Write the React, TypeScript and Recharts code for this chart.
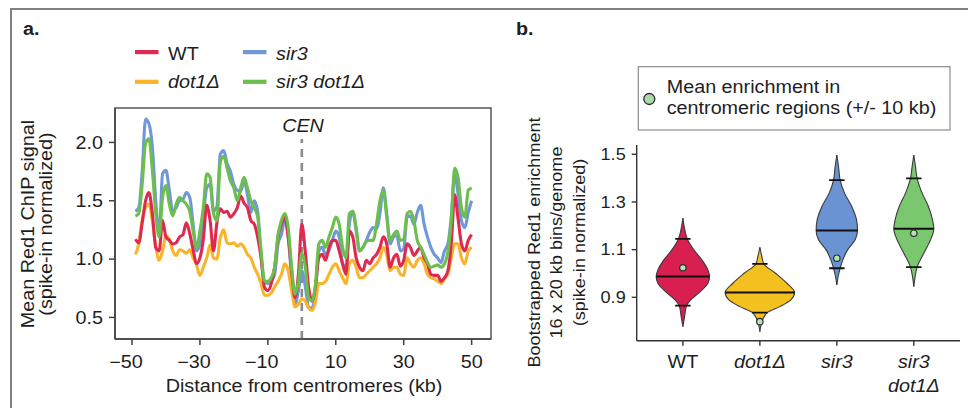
import React from "react";
import {
  LineChart,
  Line,
  XAxis,
  YAxis,
  ReferenceLine,
  ReferenceArea,
  ComposedChart,
  Area,
  Scatter,
} from "recharts";

const FONT = '"Liberation Sans", Arial, Helvetica, sans-serif';
const SX = 1.13;
const FS = 17.5;
const INK = "#1e1e1e";

// ---------------- panel a: ChIP signal around centromeres ----------------
const kbPositions = [
  -49, -48, -47, -46, -45, -44, -43, -42, -41, -40,
  -39, -38, -37, -36, -35, -34, -33, -32, -31, -30,
  -29, -28, -27, -26, -25, -24, -23, -22, -21, -20,
  -19, -18, -17, -16, -15, -14, -13, -12, -11, -10,
  -9, -8, -7, -6, -5, -4, -3, -2, -1, 0,
  1, 2, 3, 4, 5, 6, 7, 8, 9, 10,
  11, 12, 13, 14, 15, 16, 17, 18, 19, 20,
  21, 22, 23, 24, 25, 26, 27, 28, 29, 30,
  31, 32, 33, 34, 35, 36, 37, 38, 39, 40,
  41, 42, 43, 44, 45, 46, 47, 48, 49, 50,
];

const wtSignal = [
  1.17, 1.14, 1.31, 1.5, 1.57, 1.39, 1.1, 1.07, 1.33, 1.19,
  1.16, 1.13, 1.14, 1.19, 1.21, 1.31, 1.22, 1.08, 0.96, 1.01,
  1.17, 1.46, 1.33, 1.07, 1.31, 1.43, 1.4, 1.41, 1.36, 1.39,
  1.44, 1.54, 1.48, 1.44, 1.33, 1.3, 1.19, 1.01, 0.76, 0.73,
  0.79, 0.93, 1.19, 1.3, 1.36, 1.19, 0.9, 0.67, 0.87, 1.3,
  1.07, 0.76, 0.64, 0.76, 1.01, 1.04, 0.99, 1.1, 1.16, 1.16,
  1.07, 0.96, 0.87, 1.24, 1.19, 1.01, 0.93, 0.9, 0.99, 0.96,
  1.01, 1.04, 1.1, 1.19, 1.13, 0.93, 1.01, 1.04, 0.94, 0.99,
  1.13, 1.1, 1.03, 1.07, 1.1, 1.01, 0.96, 0.87, 0.86, 0.86,
  0.81, 0.84, 0.9, 1.13, 1.55, 1.35, 1.13, 1.07, 1.16, 1.21,
];

const dot1Signal = [
  1.04, 1.13, 1.34, 1.44, 1.47, 1.33, 1.11, 0.99, 1.07, 1.2,
  1.17, 1.07, 1.03, 1.08, 1.07, 1.05, 1.08, 1.01, 0.95, 0.86,
  0.93, 1.01, 1.12, 1.01, 1.0, 1.18, 1.25, 1.14, 1.13, 1.14,
  1.11, 1.13, 1.1, 1.04, 1.01, 0.93, 0.87, 0.79, 0.69, 0.69,
  0.71, 0.76, 0.81, 0.87, 0.96, 0.9, 0.73, 0.59, 0.61, 0.66,
  0.64, 0.58, 0.56, 0.63, 0.79, 0.79, 0.81, 0.87, 0.93, 0.96,
  0.9, 0.84, 0.79, 0.96, 0.99, 0.93, 0.84, 0.84, 0.87, 0.9,
  0.93, 0.96, 1.01, 1.1, 1.04, 0.9, 0.93, 0.93, 0.87, 0.86,
  1.01, 0.96, 0.93, 0.99, 1.01, 0.96, 0.87, 0.84, 0.83, 0.81,
  0.79, 0.83, 0.87, 1.01, 1.13, 1.13, 1.01, 0.96, 1.07, 1.1,
];

const sir3Signal = [
  1.41, 1.44, 1.75, 2.2, 2.16, 1.96, 1.5, 1.21, 1.73, 1.76,
  1.59, 1.41, 1.44, 1.5, 1.51, 1.57, 1.53, 1.3, 1.07, 1.13,
  1.36, 1.61, 1.64, 1.41, 1.45, 1.9, 1.93, 1.82, 1.75, 1.64,
  1.59, 1.58, 1.67, 1.55, 1.4, 1.5, 1.41, 1.04, 0.81, 0.79,
  0.81, 0.87, 1.13, 1.21, 1.33, 1.19, 0.84, 0.61, 0.73, 0.9,
  0.77, 0.59, 0.58, 0.72, 1.07, 1.1, 1.04, 1.07, 1.16, 1.24,
  1.19, 0.96, 0.93, 1.3, 1.41, 1.24, 1.07, 1.1, 1.16, 1.23,
  1.27, 1.26, 1.39, 1.61, 1.39, 1.13, 1.19, 1.2, 1.07, 1.09,
  1.36, 1.37, 1.3, 1.4, 1.46, 1.3, 1.19, 1.1, 1.04, 1.01,
  0.97, 1.07, 1.13, 1.36, 1.72, 1.56, 1.33, 1.27, 1.4, 1.5,
];

const sir3dot1Signal = [
  1.37, 1.39, 1.64, 1.99, 2.03, 1.76, 1.39, 1.19, 1.53, 1.63,
  1.47, 1.37, 1.47, 1.53, 1.5, 1.47, 1.41, 1.24, 1.1, 1.24,
  1.44, 1.73, 1.7, 1.39, 1.33, 1.83, 1.88, 1.78, 1.67, 1.61,
  1.5, 1.61, 1.7, 1.61, 1.5, 1.44, 1.36, 1.07, 0.81, 0.81,
  0.84, 0.93, 1.21, 1.33, 1.39, 1.27, 0.93, 0.7, 0.81, 1.05,
  0.94, 0.67, 0.64, 0.78, 1.13, 1.16, 1.1, 1.19, 1.27, 1.36,
  1.3, 1.1, 1.01, 1.39, 1.41, 1.27, 1.07, 1.1, 1.15, 1.16,
  1.16, 1.3, 1.5, 1.59, 1.36, 1.16, 1.21, 1.24, 1.16, 1.17,
  1.39, 1.41, 1.33, 1.16, 1.1, 1.04, 0.97, 0.93, 0.94, 0.95,
  0.93, 0.96, 1.06, 1.33, 1.78, 1.7, 1.44, 1.36, 1.59, 1.61,
];

const seriesKeys = ["wt", "dot1", "sir3", "sir3dot1"];
const seriesLabels = ["WT", "dot1\u0394", "sir3", "sir3 dot1\u0394"];
const seriesItalic = [false, true, true, true];
const lineColors = ["#e0294f", "#f9b42a", "#7098d9", "#6cbe4d"];
const drawOrder = [2, 1, 0, 3];
const xTicksA = [-50, -30, -10, 10, 30, 50];
const yTicksA = [0.5, 1.0, 1.5, 2.0];

const lineData = kbPositions.map((kb, i) => ({
  kb,
  wt: wtSignal[i],
  dot1: dot1Signal[i],
  sir3: sir3Signal[i],
  sir3dot1: sir3dot1Signal[i],
}));

// ---------------- panel b: bootstrapped enrichment violins ----------------
const violinCategories = ["WT", "dot1\u0394", "sir3", "sir3 dot1\u0394"];
const violinTickLines = [["WT"], ["dot1\u0394"], ["sir3"], ["sir3", "dot1\u0394"]];
const violinTickItalic = [false, true, true, true];
const violinFills = ["#d91f50", "#f2c01f", "#6a93d4", "#7ac76f"];

const wtLevels = [1.232, 1.197, 1.146, 1.099, 1.057, 1.015, 0.987, 0.959, 0.924, 0.889, 0.865, 0.819, 0.777];
const wtHalfWidths = [0, 0.017, 0.056, 0.143, 0.247, 0.325, 0.347, 0.325, 0.227, 0.101, 0.048, 0.022, 0];
const dot1Levels = [1.11, 1.071, 1.04, 1.001, 0.959, 0.92, 0.889, 0.861, 0.836, 0.805, 0.756];
const dot1HalfWidths = [0, 0.026, 0.052, 0.204, 0.351, 0.451, 0.403, 0.26, 0.097, 0.035, 0];
const sir3Levels = [1.497, 1.448, 1.392, 1.337, 1.28, 1.225, 1.18, 1.141, 1.099, 1.057, 1.022, 0.987, 0.952];
const sir3HalfWidths = [0, 0.022, 0.043, 0.1, 0.195, 0.256, 0.269, 0.238, 0.139, 0.078, 0.043, 0.017, 0];
const sir3dot1Levels = [1.497, 1.448, 1.399, 1.337, 1.28, 1.225, 1.188, 1.141, 1.085, 1.027, 0.987, 0.945];
const sir3dot1HalfWidths = [0, 0.022, 0.043, 0.108, 0.191, 0.243, 0.26, 0.217, 0.13, 0.043, 0.017, 0];

const upperLines = [1.145, 1.04, 1.392, 1.399];
const medians = [0.987, 0.92, 1.18, 1.188];
const lowerLines = [0.865, 0.836, 1.022, 1.027];
const centromereMeans = [1.024, 0.798, 1.064, 1.169];
const yTicksB = [0.9, 1.1, 1.3, 1.5];
const xTicksB = [0, 1, 2, 3];

const profiles: [number[], number[]][] = [
  [wtLevels, wtHalfWidths],
  [dot1Levels, dot1HalfWidths],
  [sir3Levels, sir3HalfWidths],
  [sir3dot1Levels, sir3dot1HalfWidths],
];

const violinData = profiles.map(([lv, hw], c) =>
  lv.map((y, j) => ({ y, r: [c - hw[j], c + hw[j]] }))
);

function widthAt(c: number, v: number) {
  const [lv, hw] = profiles[c];
  for (let j = 0; j < lv.length - 1; j++) {
    const a = lv[j];
    const b = lv[j + 1];
    if ((v <= a && v >= b) || (v >= a && v <= b)) {
      const t = a === b ? 0 : (v - a) / (b - a);
      return hw[j] + t * (hw[j + 1] - hw[j]);
    }
  }
  return 0;
}

const CAP = 0.1;
const medianSegs = medians.map((m, c) => {
  const w = widthAt(c, m);
  return [
    { y: m, x: c - w },
    { y: m, x: c + w },
  ];
});
const upperSegs = upperLines.map((v, c) => [
  { y: v, x: c - CAP },
  { y: v, x: c + CAP },
]);
const lowerSegs = lowerLines.map((v, c) => [
  { y: v, x: c - CAP },
  { y: v, x: c + CAP },
]);
const meanDots = centromereMeans.map((y, c) => ({ x: c, y }));

// ---------------- helpers ----------------
function T(props: {
  x: number;
  y: number;
  size?: number;
  anchor?: "start" | "middle" | "end";
  italic?: boolean;
  bold?: boolean;
  rotate?: boolean;
  children: React.ReactNode;
}) {
  const { x, y, size = FS, anchor = "start", italic = false, bold = false, rotate = false, children } = props;
  const tr = rotate
    ? `translate(${x} ${y}) rotate(-90) scale(${SX} 1)`
    : `translate(${x} ${y}) scale(${SX} 1)`;
  return (
    <text
      transform={tr}
      x={0}
      y={0}
      fontSize={size}
      textAnchor={anchor}
      fontStyle={italic ? "italic" : "normal"}
      fontWeight={bold ? "bold" : "normal"}
      fontFamily={FONT}
      fill={INK}
    >
      {children}
    </text>
  );
}

const AXTick = (p: any) => {
  const v = p.payload.value as number;
  const label = v < 0 ? `\u2212${-v}` : `${v}`;
  return (
    <T x={p.x - (v < 0 ? 6 : 0)} y={p.y + 22.5} anchor="middle">
      {label}
    </T>
  );
};

const AYTick = (p: any) => (
  <T x={p.x} y={p.y + 6.3} anchor="end">
    {(p.payload.value as number).toFixed(1)}
  </T>
);

const BXTick = (p: any) => {
  const i = p.payload.value as number;
  const lines = violinTickLines[i] || [];
  return (
    <g>
      {lines.map((ln, k) => (
        <T key={k} x={p.x} y={p.y + 22.3 + k * 23.7} anchor="middle" italic={violinTickItalic[i]}>
          {ln}
        </T>
      ))}
    </g>
  );
};

const BYTick = (p: any) => (
  <T x={p.x} y={p.y + 5.7} anchor="end" size={16}>
    {(p.payload.value as number).toFixed(1)}
  </T>
);

const MeanDot = (p: any) => (
  <circle cx={p.cx} cy={p.cy} r={3.2} fill="#b6e2b4" stroke="#2a2a2a" strokeWidth={1.2} />
);

const AXIS = "#404040";

export default function App() {
  return (
    <div
      style={{
        position: "absolute",
        left: 0,
        top: 0,
        width: 968,
        height: 408,
        overflow: "hidden",
        background: "#ffffff",
      }}
    >
      <div
        style={{
          position: "absolute",
          left: 10,
          top: 7.5,
          width: 1000,
          height: 500,
          border: "2px solid #808080",
          boxSizing: "border-box",
        }}
      />

      {/* panel a */}
      <div style={{ position: "absolute", left: 0, top: 0 }}>
        <LineChart
          width={500}
          height={408}
          data={lineData}
          margin={{ top: 108, right: 9, bottom: 39, left: 70 }}
        >
          <XAxis
            dataKey="kb"
            type="number"
            domain={[-55, 55.7]}
            allowDataOverflow
            ticks={xTicksA}
            height={30}
            tickSize={6}
            tickMargin={0}
            axisLine={{ stroke: AXIS, strokeWidth: 1.5 }}
            tickLine={{ stroke: AXIS, strokeWidth: 1.5 }}
            tick={AXTick}
            interval={0}
          />
          <YAxis
            type="number"
            domain={[0.315, 2.295]}
            allowDataOverflow
            ticks={yTicksA}
            width={45}
            tickSize={6}
            tickMargin={6}
            axisLine={{ stroke: AXIS, strokeWidth: 1.5 }}
            tickLine={{ stroke: AXIS, strokeWidth: 1.5 }}
            tick={AYTick}
            interval={0}
          />
          <ReferenceArea
            x1={-55}
            x2={55.7}
            y1={0.315}
            y2={2.295}
            fill="none"
            fillOpacity={0}
            stroke="#555555"
            strokeWidth={1.5}
          />
          <ReferenceLine
            segment={[
              { x: 0, y: 0.315 },
              { x: 0, y: 2.03 },
            ]}
            stroke="#8a8a8a"
            strokeWidth={2.6}
            strokeDasharray="8 6"
          />
          {drawOrder.map((i) => (
            <Line
              key={seriesKeys[i]}
              dataKey={seriesKeys[i]}
              name={seriesLabels[i]}
              type="monotone"
              stroke={lineColors[i]}
              strokeWidth={3.1}
              dot={false}
              activeDot={false}
              isAnimationActive={false}
            />
          ))}
        </LineChart>
      </div>

      {/* panel b */}
      <div style={{ position: "absolute", left: 520, top: 0 }}>
        <ComposedChart
          layout="vertical"
          width={448}
          height={408}
          margin={{ top: 145, right: 8, bottom: 27.3, left: 76.7 }}
        >
          <XAxis
            type="number"
            dataKey="x"
            domain={[-0.6, 3.6]}
            allowDataOverflow
            ticks={xTicksB}
            height={40}
            tickSize={5}
            tickMargin={0}
            axisLine={{ stroke: "#333", strokeWidth: 1.4 }}
            tickLine={{ stroke: "#333", strokeWidth: 1.4 }}
            tick={BXTick}
            interval={0}
          />
          <YAxis
            type="number"
            dataKey="y"
            domain={[0.718, 1.539]}
            allowDataOverflow
            reversed
            ticks={yTicksB}
            width={40}
            tickSize={5}
            tickMargin={6}
            axisLine={{ stroke: "#333", strokeWidth: 1.4 }}
            tickLine={{ stroke: "#333", strokeWidth: 1.4 }}
            tick={BYTick}
            interval={0}
          />
          {violinData.map((d, c) => (
            <Area
              key={`v${c}`}
              data={d}
              dataKey="r"
              name={violinCategories[c]}
              type="monotone"
              fill={violinFills[c]}
              fillOpacity={1}
              stroke="#3a3a3a"
              strokeWidth={1.1}
              dot={false}
              activeDot={false}
              isAnimationActive={false}
            />
          ))}
          {medianSegs.map((d, c) => (
            <Line
              key={`m${c}`}
              data={d}
              dataKey="x"
              type="linear"
              stroke="#111"
              strokeWidth={2}
              dot={false}
              activeDot={false}
              isAnimationActive={false}
            />
          ))}
          {upperSegs.map((d, c) => (
            <Line
              key={`u${c}`}
              data={d}
              dataKey="x"
              type="linear"
              stroke="#111"
              strokeWidth={1.8}
              dot={false}
              activeDot={false}
              isAnimationActive={false}
            />
          ))}
          {lowerSegs.map((d, c) => (
            <Line
              key={`l${c}`}
              data={d}
              dataKey="x"
              type="linear"
              stroke="#111"
              strokeWidth={1.8}
              dot={false}
              activeDot={false}
              isAnimationActive={false}
            />
          ))}
          <Scatter data={meanDots} dataKey="y" shape={MeanDot} isAnimationActive={false} />
        </ComposedChart>
      </div>

      {/* texts and legends */}
      <svg
        width={968}
        height={408}
        style={{ position: "absolute", left: 0, top: 0, pointerEvents: "none" }}
      >
        <T x={23} y={35} bold>a.</T>
        <T x={516} y={35} bold>b.</T>

        {/* legend a */}
        {[0, 2, 1, 3].map((i, k) => {
          const col = k % 2;
          const row = Math.floor(k / 2);
          const sx = col === 0 ? 135 : 243;
          const sy = row === 0 ? 50 : 79.7;
          const ty = row === 0 ? 60 : 88.3;
          return (
            <g key={i}>
              <rect x={sx} y={sy} width={23.5} height={4.2} fill={lineColors[i]} />
              <T x={sx + 33} y={ty} italic={seriesItalic[i]}>
                {seriesLabels[i]}
              </T>
            </g>
          );
        })}

        <T x={303} y={131.7} anchor="middle" italic>CEN</T>
        <T x={304} y={392} anchor="middle">Distance from centromeres (kb)</T>
        <T x={34} y={224} anchor="middle" rotate>Mean Red1 ChIP signal</T>
        <T x={51.5} y={224} anchor="middle" rotate>(spike-in normalized)</T>

        {/* panel b titles */}
        <T x={539.5} y={242.5} anchor="middle" rotate size={16}>Bootstrapped Red1 enrichment</T>
        <T x={561.7} y={242.5} anchor="middle" rotate size={16}>16 x 20 kb bins/genome</T>
        <T x={585} y={242.5} anchor="middle" rotate size={16}>(spike-in normalized)</T>

        {/* legend b */}
        <rect x={638.3} y={66.7} width={311.7} height={63.3} fill="#ffffff" stroke="#8c8c8c" strokeWidth={1.2} />
        <circle cx={649.3} cy={99} r={5.5} fill="#a9dca8" stroke="#2a2a2a" strokeWidth={1.3} />
        <T x={666.7} y={92.7}>Mean enrichment in</T>
        <T x={666.7} y={113.7}>centromeric regions (+/- 10 kb)</T>
      </svg>
    </div>
  );
}
